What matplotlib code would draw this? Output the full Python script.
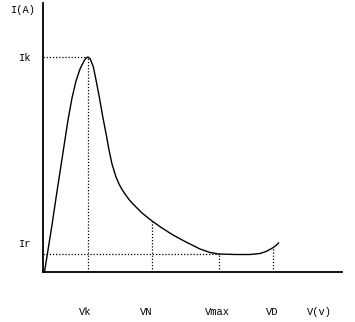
import matplotlib
matplotlib.use("Agg")
import matplotlib.pyplot as plt

# Characteristic curve: current I versus voltage V (arbitrary units)
voltage = [1.5, 5, 9, 13, 17, 21, 25, 29, 33, 37, 41, 43, 45, 47,
           50.3, 53, 56.3, 60, 63.7, 66, 69, 73, 76, 79, 82, 86, 90, 99, 109,
           119, 130, 143, 157, 167, 176, 192, 207, 217, 223, 229.5, 233, 235.5]
current = [0, 22, 47, 74, 100, 126, 152, 174, 191, 203, 211, 214, 215, 213.5,
           205.3, 192, 175, 154, 135, 122, 108, 95, 88, 82.5, 78, 72.5, 68, 59,
           51, 44, 37, 30, 23, 19.5, 18, 17.5, 17.5, 18.5, 20.5, 24, 26.5, 29]

# Characteristic points
v_marks = [45, 109, 176, 229.5]
v_labels = ["Vk", "VN", "Vmax", "VD"]
i_at_marks = [215, 51, 18, 24]
i_marks = [215, 18]
i_labels = ["Ik", "Ir"]

W, H = 355, 322
fig = plt.figure(figsize=(W / 100, H / 100), dpi=100)
ax = fig.add_axes([43 / W, 50 / H, (342 - 43) / W, (272 - 3) / H])
ax.set_xlim(0, 299)
ax.set_ylim(0, 269)

for s in ("top", "right"):
    ax.spines[s].set_visible(False)
for s in ("left", "bottom"):
    ax.spines[s].set_linewidth(1.3)
    ax.spines[s].set_color("black")
ax.set_xticks([])
ax.set_yticks([])

font = dict(family="Liberation Mono", size=7.5, color="black")

# Curve
ax.plot(voltage, current, color="black", lw=1.0, clip_on=False)

# Dotted guides from the curve down to the V axis
dot = dict(color="black", lw=0.9, linestyle=(0, (1, 1.5)))
for v, i in zip(v_marks, i_at_marks):
    ax.plot([v, v], [0, i], **dot)
# Dotted guides from the I axis to Ik and Ir
ax.plot([0, v_marks[0]], [i_marks[0], i_marks[0]], **dot)
ax.plot([0, v_marks[2]], [i_marks[1], i_marks[1]], **dot)

# V axis labels
label_dx = [-2, -4, -1, -0.5]
for v, lab, dx in zip(v_marks, v_labels, label_dx):
    ax.annotate(lab, xy=(v, 0), xytext=(dx, -29), textcoords="offset points",
                ha="center", va="center", annotation_clip=False, **font)
ax.annotate("V(v)", xy=(276, 0), xytext=(0, -29), textcoords="offset points",
            ha="center", va="center", annotation_clip=False, **font)

# I axis labels
ax.annotate(i_labels[0], xy=(0, i_marks[0]), xytext=(-13, -0.5),
            textcoords="offset points", ha="center", va="center",
            annotation_clip=False, **font)
ax.annotate(i_labels[1], xy=(0, i_marks[1]), xytext=(-13, 7),
            textcoords="offset points", ha="center", va="center",
            annotation_clip=False, **font)
ax.annotate("I(A)", xy=(0, 269), xytext=(-14, -5), textcoords="offset points",
            ha="center", va="center", annotation_clip=False, **font)

fig.savefig("out.png", dpi=100, facecolor="white")
